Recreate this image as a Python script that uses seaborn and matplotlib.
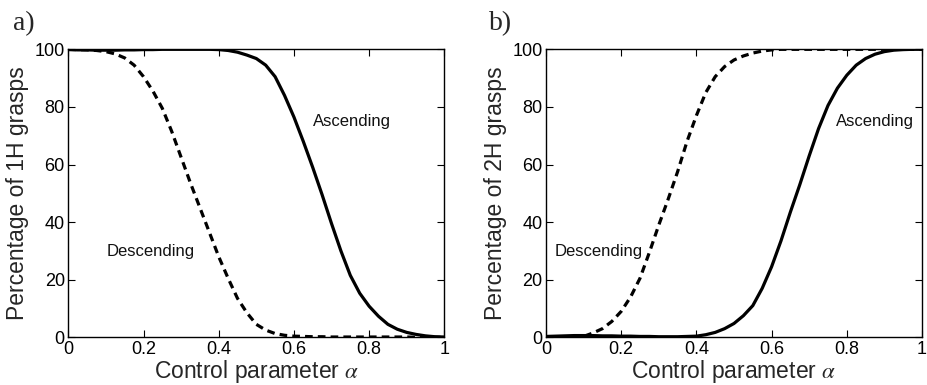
import matplotlib
matplotlib.use("Agg")
import matplotlib.pyplot as plt
import pandas as pd
import seaborn as sns

# ---------------- data ----------------
alpha = [0.000, 0.025, 0.050, 0.075, 0.100, 0.125, 0.150, 0.175, 0.200, 0.225,
         0.250, 0.275, 0.300, 0.325, 0.350, 0.375, 0.400, 0.425, 0.450, 0.475,
         0.500, 0.525, 0.550, 0.575, 0.600, 0.625, 0.650, 0.675, 0.700, 0.725,
         0.750, 0.775, 0.800, 0.825, 0.850, 0.875, 0.900, 0.925, 0.950, 0.975,
         1.000]

one_hand_ascending = [99.9, 99.8, 99.8, 99.7, 99.7, 99.7, 99.8, 99.8, 99.9, 99.9,
                      100.0, 100.0, 100.0, 100.0, 100.0, 100.0, 99.9, 99.6, 99.0, 98.0,
                      96.8, 94.5, 90.5, 84.0, 76.5, 68.0, 59.0, 49.5, 39.5, 30.0,
                      21.5, 15.3, 10.8, 7.3, 4.5, 2.8, 1.7, 1.0, 0.5, 0.2,
                      0.1]

one_hand_descending = [100.0, 99.9, 99.8, 99.6, 99.2, 98.4, 97.0, 94.5, 90.5, 85.5,
                       79.5, 71.5, 62.5, 53.5, 45.0, 36.5, 28.0, 20.5, 13.5, 8.5,
                       4.5, 2.5, 1.3, 0.7, 0.4, 0.3, 0.2, 0.2, 0.1, 0.1,
                       0.1, 0.1, 0.1, 0.1, 0.1, 0.1, 0.1, 0.0, 0.0, 0.0,
                       0.0]

two_hand_ascending = [0.3, 0.4, 0.5, 0.6, 0.6, 0.6, 0.5, 0.5, 0.4, 0.4,
                      0.3, 0.3, 0.2, 0.2, 0.2, 0.3, 0.4, 0.9, 1.7, 3.0,
                      4.8, 7.5, 11.0, 17.0, 24.5, 33.5, 43.5, 53.0, 63.0, 72.5,
                      80.5, 86.5, 91.0, 94.5, 96.8, 98.3, 99.2, 99.7, 99.9, 100.0,
                      100.0]

two_hand_descending = [0.0, 0.0, 0.0, 0.1, 0.3, 1.5, 3.0, 5.5, 9.0, 14.0,
                       20.5, 29.5, 39.0, 48.0, 57.5, 68.0, 77.0, 85.0, 90.5, 94.0,
                       96.3, 97.7, 98.7, 99.4, 99.8, 100.0, 100.0, 100.0, 100.0, 100.0,
                       100.0, 100.0, 100.0, 100.0, 100.0, 100.0, 100.0, 100.0, 100.0, 100.0,
                       100.0]

x_ticks = [0, 0.2, 0.4, 0.6, 0.8, 1]
x_tick_labels = ["0", "0.2", "0.4", "0.6", "0.8", "1"]
y_ticks = [0, 20, 40, 60, 80, 100]
y_tick_labels = ["0", "20", "40", "60", "80", "100"]

panel_letters = ["a)", "b)"]
y_labels = ["Percentage of 1H grasps", "Percentage of 2H grasps"]
x_label = r"Control parameter $\alpha$"
sweeps = ["Ascending", "Descending"]

# ---------------- style ----------------
sns.set_style("ticks")
plt.rcParams["font.family"] = ["Liberation Sans", "DejaVu Sans"]
plt.rcParams["mathtext.fontset"] = "stix"

fig = plt.figure(figsize=(9.27, 3.85), dpi=100)
ax_a = fig.add_axes([0.0737, 0.1239, 0.4056, 0.748])
ax_b = fig.add_axes([0.5890, 0.1239, 0.4056, 0.748])


def make_frame(asc, desc):
    return pd.DataFrame({
        "alpha": alpha + alpha,
        "pct": asc + desc,
        "sweep": [sweeps[0]] * len(alpha) + [sweeps[1]] * len(alpha),
    })


frames = [make_frame(one_hand_ascending, one_hand_descending),
          make_frame(two_hand_ascending, two_hand_descending)]

label_pos = [
    {"Ascending": (0.651, 74.9), "Descending": (0.102, 29.7)},
    {"Ascending": (0.771, 74.9), "Descending": (0.022, 29.7)},
]

for i, (ax, df) in enumerate(zip([ax_a, ax_b], frames)):
    sns.lineplot(data=df, x="alpha", y="pct", style="sweep",
                 dashes={"Ascending": "", "Descending": (2.4, 1.6)},
                 color="black", linewidth=2.3, legend=False,
                 errorbar=None, ax=ax)
    ax.set_xlim(0, 1)
    ax.set_ylim(0, 100)
    ax.set_xticks(x_ticks)
    ax.set_xticklabels(x_tick_labels)
    ax.set_yticks(y_ticks)
    ax.set_yticklabels(y_tick_labels)
    ax.tick_params(direction="in", top=True, right=True, length=5, width=0.8,
                   labelsize=13, pad=2.5, colors="black")
    for sp in ax.spines.values():
        sp.set_visible(True)
        sp.set_linewidth(1.0)
        sp.set_color("black")
    ax.set_xlabel(x_label, fontsize=16.5, labelpad=0)
    ax.set_ylabel(y_labels[i], fontsize=16.5, labelpad=4)
    for name, (tx, ty) in label_pos[i].items():
        ax.text(tx, ty, name, fontsize=12, ha="left", va="center", color="#111111")

fig.text(13 / 927, 1 - 30 / 385, panel_letters[0], fontsize=20,
         family="Liberation Serif", ha="left", va="baseline")
fig.text(489 / 927, 1 - 30 / 385, panel_letters[1], fontsize=20,
         family="Liberation Serif", ha="left", va="baseline")

fig.savefig("out.png", dpi=100)
